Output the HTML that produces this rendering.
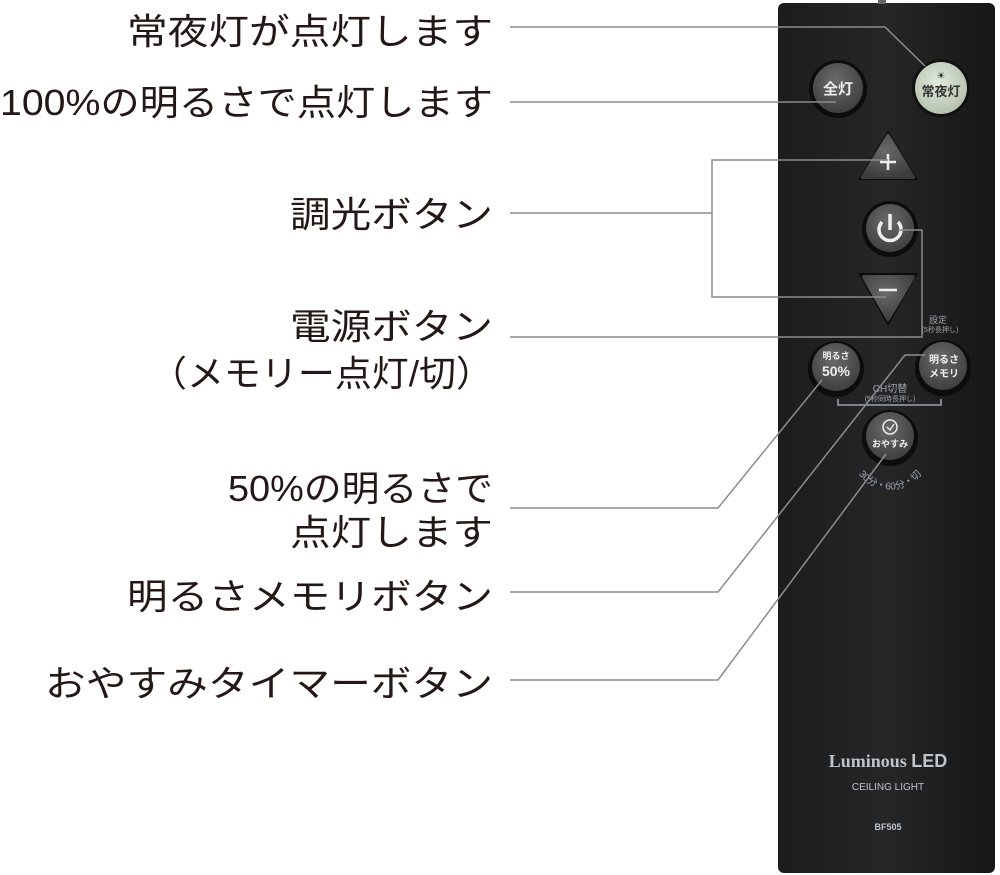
<!DOCTYPE html>
<html><head><meta charset="utf-8"><style>
html,body{margin:0;padding:0;background:#fff;width:1000px;height:875px;overflow:hidden}
svg{display:block}
.l{font-family:"Liberation Sans","Noto Sans CJK JP",sans-serif;font-size:36px;fill:#231815}
.b{font-family:"Liberation Sans","Noto Sans CJK JP",sans-serif;fill:#eee;text-anchor:middle;font-weight:bold}
.s{font-family:"Liberation Sans","Noto Sans CJK JP",sans-serif;fill:#9aa4ae;text-anchor:middle}
</style></head><body>
<svg width="1000" height="875" viewBox="0 0 1000 875" xmlns="http://www.w3.org/2000/svg">
<defs>
<radialGradient id="bg" cx="0.45" cy="0.35" r="0.7"><stop offset="0" stop-color="#6a6a6a"/><stop offset="1" stop-color="#3c3c3c"/></radialGradient>
<radialGradient id="gg" cx="0.45" cy="0.4" r="0.7"><stop offset="0" stop-color="#e2ebdc"/><stop offset="1" stop-color="#aebaa8"/></radialGradient>
<linearGradient id="rb" x1="0" x2="1"><stop offset="0" stop-color="#1c1c1c"/><stop offset="0.5" stop-color="#262626"/><stop offset="1" stop-color="#161616"/></linearGradient>
<path id="arc" d="M852 462 A40 40 0 0 0 928 462"/>
</defs>
<rect x="778" y="3" width="217" height="870" rx="6" fill="url(#rb)"/>
<rect x="878" y="0" width="8" height="4" fill="#666"/>
<circle cx="838" cy="89" r="29" fill="#0c0c0c"/><circle cx="838" cy="88" r="25" fill="url(#bg)"/>
<text class="b" x="838" y="94" font-size="15">全灯</text>
<circle cx="941" cy="88" r="29" fill="#111"/><circle cx="941" cy="88" r="26" fill="url(#gg)"/>
<text x="941" y="79" font-size="10" text-anchor="middle" fill="#222">☀</text>
<text x="941" y="96" font-size="13" text-anchor="middle" fill="#333" font-family="Liberation Sans,Noto Sans CJK JP,sans-serif" font-weight="bold">常夜灯</text>
<path d="M888 130 L918 180 L858 180 Z" fill="#0c0c0c"/>
<path d="M888 136 L913 177 L863 177 Z" fill="url(#bg)" stroke="url(#bg)" stroke-width="4" stroke-linejoin="round"/>
<path d="M880 162 H896 M888 154 V170" stroke="#eee" stroke-width="2.5"/>
<circle cx="890" cy="229" r="28" fill="#0c0c0c"/><circle cx="890" cy="228" r="24" fill="url(#bg)"/>
<path d="M882 222 A11 11 0 1 0 898 222" fill="none" stroke="#eee" stroke-width="3.5"/>
<path d="M890 214 V230" stroke="#eee" stroke-width="3.5"/>
<path d="M858 273 L918 273 L888 326 Z" fill="#0c0c0c"/>
<path d="M864 277 L913 277 L888 319 Z" fill="url(#bg)" stroke="url(#bg)" stroke-width="4" stroke-linejoin="round"/>
<path d="M879 290 H897" stroke="#eee" stroke-width="2.5"/>
<text class="s" x="938" y="323" font-size="9">設定</text>
<text class="s" x="940" y="332" font-size="7">(5秒長押し)</text>
<circle cx="836" cy="369" r="28" fill="#0c0c0c"/><circle cx="836" cy="367" r="24" fill="url(#bg)"/>
<text class="b" x="836" y="359" font-size="9">明るさ</text>
<text class="b" x="836" y="376" font-size="14">50%</text>
<circle cx="943" cy="368" r="28" fill="#0c0c0c"/><circle cx="943" cy="366" r="24" fill="url(#bg)"/>
<text class="b" x="944" y="363" font-size="10">明るさ</text>
<text class="b" x="944" y="377" font-size="10">メモリ</text>
<text class="s" x="890" y="392" font-size="10">CH切替</text>
<text class="s" x="890" y="401" font-size="7">(5秒同時長押し)</text>
<path d="M838 399 V405 H941 V399" fill="none" stroke="#9aa4ae" stroke-width="1.5"/>
<circle cx="890" cy="438" r="28" fill="#0c0c0c"/><circle cx="890" cy="436" r="24" fill="url(#bg)"/>
<circle cx="890" cy="427" r="7" fill="none" stroke="#eee" stroke-width="1.5"/>
<path d="M887 427 L890 430 L894 424" fill="none" stroke="#eee" stroke-width="1.3"/>
<text class="b" x="890" y="447" font-size="9">おやすみ</text>
<text class="s" font-size="10" fill="#b0b8c0"><textPath href="#arc" startOffset="50%">30分・60分・切</textPath></text>
<text x="888" y="767" font-size="18" text-anchor="middle" fill="#bcc4cc" font-family="Liberation Serif,serif" font-weight="bold">Luminous <tspan font-family="Liberation Sans,sans-serif">LED</tspan></text>
<text x="888" y="790" font-size="10" text-anchor="middle" fill="#bcc4cc" font-family="Liberation Sans,sans-serif">CEILING LIGHT</text>
<text x="888" y="830" font-size="9" text-anchor="middle" fill="#bcc4cc" font-family="Liberation Sans,sans-serif" font-weight="bold">BF505</text>
<g fill="none" stroke="#8c8c8c" stroke-width="1.5">
<path d="M510 27 H885 L925 66"/>
<path d="M510 102 H836"/>
<path d="M510 213 H712 M888 160 H712 V297 H886"/>
<path d="M510 337 H922 V230 H898"/>
<path d="M510 508 H718 L822 380"/>
<path d="M510 592 H718 L905 355 H925"/>
<path d="M510 680 H718 L886 454"/>
</g>
<g class="l" text-anchor="end">
<text x="493" y="44" textLength="366" lengthAdjust="spacingAndGlyphs">常夜灯が点灯します</text>
<text x="493" y="115" textLength="493" lengthAdjust="spacingAndGlyphs">100%の明るさで点灯します</text>
<text x="493" y="227" textLength="203" lengthAdjust="spacingAndGlyphs">調光ボタン</text>
<text x="493" y="339" textLength="203" lengthAdjust="spacingAndGlyphs">電源ボタン</text>
<text x="493" y="386" textLength="343" lengthAdjust="spacingAndGlyphs">（メモリー点灯/切）</text>
<text x="493" y="501" textLength="265" lengthAdjust="spacingAndGlyphs">50%の明るさで</text>
<text x="493" y="545" textLength="203" lengthAdjust="spacingAndGlyphs">点灯します</text>
<text x="493" y="609" textLength="366" lengthAdjust="spacingAndGlyphs">明るさメモリボタン</text>
<text x="493" y="696" textLength="448" lengthAdjust="spacingAndGlyphs">おやすみタイマーボタン</text>
</g>
</svg>
</body></html>
